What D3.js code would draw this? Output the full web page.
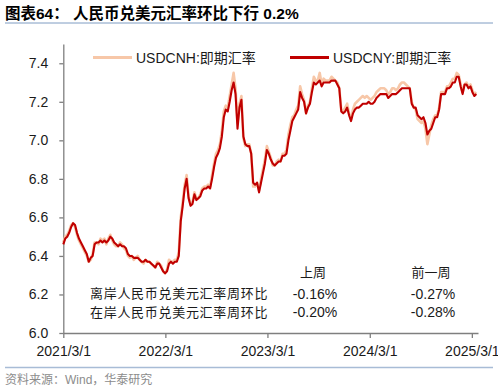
<!DOCTYPE html>
<html>
<head>
<meta charset="utf-8">
<script src="https://cdn.jsdelivr.net/npm/d3@7"></script>
<style>
body { margin: 0; background: #fff; }
text { font-family: "Liberation Sans", "Noto Sans CJK SC", sans-serif; }
</style>
</head>
<body>
<script>

// weekly closes, one value per Monday from 2021/3/1
var cny = [
  6.46,6.49,6.50,6.52,6.55,6.57,6.56,6.52,6.49,6.47,
  6.45,6.43,6.41,6.37,6.39,6.40,6.46,6.47,6.47,6.48,
  6.47,6.48,6.47,6.48,6.50,6.49,6.47,6.46,6.45,6.46,
  6.45,6.45,6.44,6.41,6.40,6.40,6.39,6.39,6.39,6.38,
  6.37,6.37,6.38,6.37,6.37,6.36,6.35,6.34,6.36,6.36,
  6.34,6.32,6.31,6.32,6.36,6.37,6.36,6.37,6.37,6.40,
  6.58,6.66,6.75,6.80,6.70,6.66,6.67,6.72,6.69,6.70,
  6.71,6.74,6.75,6.75,6.76,6.75,6.80,6.86,6.91,6.93,
  6.96,7.02,7.12,7.16,7.15,7.20,7.26,7.30,7.24,7.06,
  7.17,7.21,7.02,6.98,6.97,6.97,6.93,6.78,6.77,6.78,
  6.73,6.78,6.83,6.88,6.95,6.93,6.90,6.88,6.87,6.88,
  6.89,6.89,6.92,6.92,6.93,7.00,7.05,7.10,7.12,7.14,
  7.16,7.25,7.22,7.20,7.14,7.17,7.19,7.25,7.30,7.29,
  7.30,7.31,7.28,7.30,7.30,7.30,7.30,7.31,7.31,7.31,
  7.29,7.27,7.15,7.14,7.15,7.17,7.13,7.10,7.14,7.16,
  7.17,7.17,7.18,7.19,7.19,7.19,7.20,7.19,7.19,7.20,
  7.22,7.23,7.24,7.24,7.24,7.24,7.22,7.23,7.24,7.24,
  7.24,7.25,7.26,7.27,7.27,7.27,7.27,7.27,7.19,7.17,
  7.17,7.13,7.12,7.11,7.12,7.09,7.03,7.05,7.06,7.09,
  7.12,7.12,7.16,7.24,7.24,7.24,7.27,7.27,7.28,7.30,
  7.30,7.33,7.33,7.28,7.24,7.29,7.29,7.27,7.28,7.25,
  7.23,7.24
];

var cnh = [
  6.47,6.50,6.51,6.53,6.56,6.57,6.55,6.51,6.48,6.46,
  6.44,6.42,6.40,6.37,6.38,6.41,6.47,6.47,6.46,6.49,
  6.48,6.49,6.46,6.49,6.51,6.48,6.46,6.45,6.45,6.47,
  6.46,6.44,6.43,6.40,6.39,6.40,6.38,6.39,6.40,6.38,
  6.37,6.36,6.38,6.37,6.37,6.36,6.35,6.34,6.37,6.36,
  6.35,6.32,6.31,6.33,6.38,6.37,6.37,6.38,6.38,6.42,
  6.60,6.68,6.77,6.82,6.71,6.67,6.68,6.73,6.70,6.70,
  6.72,6.75,6.76,6.76,6.77,6.76,6.82,6.88,6.93,6.95,
  6.98,7.05,7.15,7.18,7.17,7.23,7.29,7.35,7.27,7.09,
  7.19,7.23,7.01,6.97,6.98,6.98,6.93,6.76,6.76,6.78,
  6.74,6.80,6.85,6.90,6.97,6.94,6.91,6.87,6.87,6.89,
  6.90,6.89,6.93,6.93,6.95,7.03,7.08,7.12,7.13,7.16,
  7.18,7.28,7.24,7.21,7.14,7.18,7.20,7.27,7.33,7.31,
  7.31,7.35,7.29,7.32,7.31,7.31,7.31,7.33,7.32,7.31,
  7.30,7.27,7.16,7.15,7.17,7.19,7.14,7.11,7.16,7.19,
  7.20,7.21,7.22,7.23,7.22,7.23,7.22,7.21,7.22,7.23,
  7.25,7.26,7.27,7.27,7.27,7.26,7.24,7.25,7.27,7.27,
  7.26,7.27,7.29,7.30,7.30,7.29,7.28,7.27,7.20,7.17,
  7.16,7.11,7.10,7.09,7.10,7.06,6.98,7.03,7.08,7.11,
  7.13,7.13,7.17,7.25,7.25,7.25,7.28,7.28,7.30,7.32,
  7.32,7.35,7.34,7.29,7.25,7.29,7.30,7.28,7.29,7.26,
  7.24,7.25
];

var seriesNames = ["USDCNH:即期汇率", "USDCNY:即期汇率"];
var seriesColors = ["#f7c7a8", "#c00000"];

var xTickLabels = ["2021/3/1", "2022/3/1", "2023/3/1", "2024/3/1", "2025/3/1"];
var yTicks = [6.0, 6.2, 6.4, 6.6, 6.8, 7.0, 7.2, 7.4];

var tableCols = ["上周", "前一周"];
var tableRows = ["离岸人民币兑美元汇率周环比", "在岸人民币兑美元汇率周环比"];
var tableVals = [["-0.16%", "-0.27%"], ["-0.20%", "-0.28%"]];

var W = 498, H = 392;
var parse = d3.timeParse("%Y/%m/%d");
var dates = d3.timeMonday.range(parse("2021/3/1"), parse("2025/3/18"));

var svg = d3.select("body").append("svg")
  .attr("width", W)
  .attr("height", H);

// title + rules
svg.append("text")
  .attr("x", 5).attr("y", 19)
  .attr("font-size", 15.5).attr("font-weight", "bold").attr("fill", "#000")
  .text("图表64：  人民币兑美元汇率环比下行 0.2%");
svg.append("line")
  .attr("x1", 5).attr("x2", 493).attr("y1", 23).attr("y2", 23)
  .attr("stroke", "#7f9cc2").attr("stroke-width", 1);
svg.append("line")
  .attr("x1", 5).attr("x2", 493).attr("y1", 367.5).attr("y2", 367.5)
  .attr("stroke", "#a8bcd6").attr("stroke-width", 1.5);
svg.append("text")
  .attr("x", 5).attr("y", 384)
  .attr("font-size", 12).attr("fill", "#8c8c8c")
  .text("资料来源：Wind，华泰研究");

var x = d3.scaleTime()
  .domain([parse("2021/3/1"), parse("2025/3/23")])
  .range([63.3, 478]);
var y = d3.scaleLinear()
  .domain([6.0, 7.5])
  .range([333, 44]);

var xAxis = svg.append("g")
  .attr("transform", "translate(0,333)")
  .call(d3.axisBottom(x)
    .tickValues(xTickLabels.map(parse))
    .tickFormat(d3.timeFormat("%Y/%-m/%-d"))
    .tickSize(5).tickSizeOuter(0));
var yAxis = svg.append("g")
  .attr("transform", "translate(63.3,0)")
  .call(d3.axisLeft(y)
    .tickValues(yTicks)
    .tickFormat(d3.format(".1f"))
    .tickSize(4).tickSizeOuter(0));

[xAxis, yAxis].forEach(function(g) {
  g.select(".domain").attr("stroke", "#7f7f7f").attr("stroke-width", 1.3);
  g.selectAll(".tick line").attr("stroke", "#7f7f7f").attr("stroke-width", 1.3);
  g.selectAll(".tick text")
    .attr("font-size", 14).attr("fill", "#1a1a1a")
    .attr("font-family", "Liberation Sans, sans-serif");
});
xAxis.selectAll(".tick text").attr("dy", "1.1em");
yAxis.selectAll(".tick text").attr("x", -15);

var line = d3.line()
  .x(function(d, i) { return x(dates[i]); })
  .y(function(d) { return y(d); });

[cnh, cny].forEach(function(s, k) {
  svg.append("path")
    .datum(s)
    .attr("fill", "none")
    .attr("stroke", seriesColors[k])
    .attr("stroke-width", k == 0 ? 2.6 : 2.1)
    .attr("stroke-linejoin", "round")
    .attr("d", line);
});

// legend
var legX = [93, 290];
seriesNames.forEach(function(n, k) {
  svg.append("line")
    .attr("x1", legX[k]).attr("x2", legX[k] + 39)
    .attr("y1", 57.5).attr("y2", 57.5)
    .attr("stroke", seriesColors[k]).attr("stroke-width", 3);
  svg.append("text")
    .attr("x", legX[k] + 43).attr("y", 57.5).attr("dy", "0.36em")
    .attr("font-size", 14).attr("fill", "#1a1a1a")
    .text(n);
});

// little table
var colX = [313, 431];
tableCols.forEach(function(c, j) {
  svg.append("text")
    .attr("x", colX[j]).attr("y", 272).attr("dy", "0.36em")
    .attr("text-anchor", "middle")
    .attr("font-size", 13).attr("fill", "#1a1a1a")
    .text(c);
});
tableRows.forEach(function(r, i) {
  var yy = 293.5 + i * 18.5;
  svg.append("text")
    .attr("x", 90).attr("y", yy).attr("dy", "0.36em")
    .attr("font-size", 13).attr("letter-spacing", 0.7).attr("fill", "#1a1a1a")
    .text(r);
  tableVals[i].forEach(function(v, j) {
    svg.append("text")
      .attr("x", colX[j] + 2).attr("y", yy).attr("dy", "0.36em")
      .attr("text-anchor", "middle")
      .attr("font-size", 14).attr("fill", "#1a1a1a")
      .text(v);
  });
});

</script>
</body>
</html>
